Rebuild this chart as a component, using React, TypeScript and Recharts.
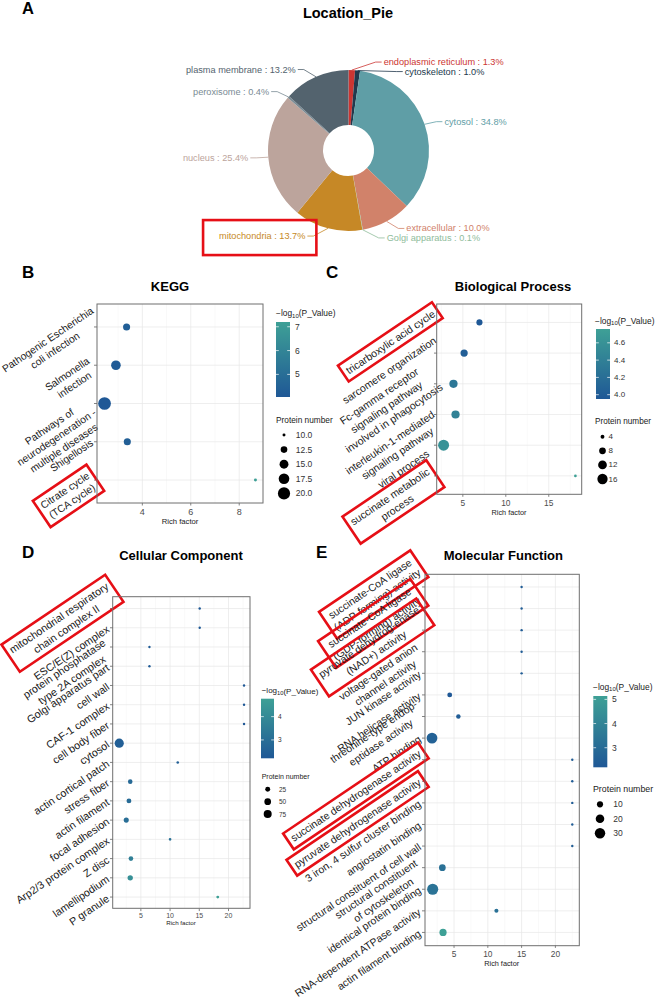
import React from "react";
import {
  PieChart,
  Pie,
  Cell,
  ScatterChart,
  Scatter,
  XAxis,
  YAxis,
  ZAxis,
  CartesianGrid,
} from "recharts";

const FONT = '"Liberation Sans", Arial, Helvetica, sans-serif';

// ---------- A: subcellular location ----------
const locNames = [
  "endoplasmic reticulum",
  "cytoskeleton",
  "cytosol",
  "extracellular",
  "Golgi apparatus",
  "mitochondria",
  "nucleus",
  "peroxisome",
  "plasma membrane",
];
const locPercent = [1.3, 1.0, 34.8, 10.0, 0.1, 13.7, 25.4, 0.4, 13.2];
const locColors = [
  "#cc3532",
  "#22394d",
  "#5f9ea6",
  "#d1826a",
  "#8fbc9b",
  "#c68826",
  "#bca49c",
  "#7a8b94",
  "#53636e",
];
const locHighlight = ["mitochondria"];

// ---------- B: KEGG ----------
const keggTerms = [
  "Pathogenic Escherichia\ncoli infection",
  "Salmonella\ninfection",
  "Pathways of\nneurodegeneration -\nmultiple diseases",
  "Shigellosis",
  "Citrate cycle\n(TCA cycle)",
];
const keggRich = [3.35, 2.91, 2.44, 3.38, 8.67];
const keggCount = [13, 16, 21, 13, 10];
const keggLogP = [4.3, 4.2, 4.05, 4.35, 7.2];
const keggBoxed = ["Citrate cycle\n(TCA cycle)"];
const keggXTicks = [4, 6, 8];
const keggPTicks = [5, 6, 7];
const keggSizeBreaks = [10, 12.5, 15, 17.5, 20];

// ---------- C: Biological Process ----------
const bpTerms = [
  "tricarboxylic acid cycle",
  "sarcomere organization",
  "Fc-gamma receptor\nsignaling pathway\ninvolved in phagocytosis",
  "interleukin-1-mediated\nsignaling pathway",
  "viral process",
  "succinate metabolic\nprocess",
];
const bpRich = [6.93, 5.15, 3.91, 4.15, 2.76, 18.1];
const bpCount = [7, 9, 11, 11, 18, 3];
const bpLogP = [3.95, 4.02, 4.3, 4.42, 4.6, 4.76];
const bpBoxed = ["tricarboxylic acid cycle", "succinate metabolic\nprocess"];
const bpXTicks = [5, 10, 15];
const bpPTicks = [4.0, 4.2, 4.4, 4.6];
const bpSizeBreaks = [4, 8, 12, 16];

// ---------- D: Cellular Component ----------
const ccTerms = [
  "mitochondrial respiratory\nchain complex II",
  "ESC/E(Z) complex",
  "protein phosphatase\ntype 2A complex",
  "Golgi apparatus part",
  "cell wall",
  "CAF-1 complex",
  "cell body fiber",
  "cytosol",
  "actin cortical patch",
  "stress fiber",
  "actin filament",
  "focal adhesion",
  "Arp2/3 protein complex",
  "Z disc",
  "lamellipodium",
  "P granule",
];
const ccRich = [15.07, 15.07, 6.47, 6.47, 22.66, 22.66, 22.66, 1.3, 11.31, 3.18, 2.96, 2.5, 10.0, 3.3, 3.18, 18.16];
const ccCount = [1, 1, 1, 1, 1, 1, 1, 100, 2, 20, 23, 27, 3, 21, 30, 4];
const ccLogP = [2.25, 2.25, 2.3, 2.3, 2.21, 2.21, 2.21, 2.45, 2.5, 2.85, 2.9, 3.0, 3.1, 3.6, 4.2, 4.77];
const ccBoxed = ["mitochondrial respiratory\nchain complex II"];
const ccXTicks = [5, 10, 15, 20];
const ccPTicks = [3, 4];
const ccSizeBreaks = [25, 50, 75];

// ---------- E: Molecular Function ----------
const mfTerms = [
  "succinate-CoA ligase\n(ADP-forming) activity",
  "succinate-CoA ligase\n(GDP-forming) activity",
  "pyruvate dehydrog-enase\n(NAD+) activity",
  "voltage-gated anion\nchannel activity",
  "JUN kinase activity",
  "RNA helicase activity",
  "threonine-type endop-\neptidase activity",
  "ATP binding",
  "succinate dehydrogenase activity",
  "pyruvate dehydrogenase activity",
  "3 iron, 4 sulfur cluster binding",
  "angiostatin binding",
  "structural constituent of cell wall",
  "structural constituent\nof cytoskeleton",
  "identical protein binding",
  "RNA-dependent ATPase activity",
  "actin filament binding",
];
const mfRich = [15, 15, 15, 15, 15, 4.36, 5.64, 1.74, 22.5, 22.5, 22.5, 22.5, 22.5, 3.27, 1.84, 11.27, 3.37];
const mfCount = [1, 1, 1, 1, 1, 6, 5, 32, 1, 1, 1, 1, 1, 12, 34, 4, 14];
const mfLogP = [2.4, 2.4, 2.4, 2.4, 2.4, 2.19, 2.4, 2.6, 2.4, 2.4, 2.4, 2.4, 2.4, 3.2, 3.3, 3.2, 5.14];
const mfBoxed = [
  "succinate-CoA ligase\n(ADP-forming) activity",
  "succinate-CoA ligase\n(GDP-forming) activity",
  "pyruvate dehydrog-enase\n(NAD+) activity",
  "succinate dehydrogenase activity",
  "pyruvate dehydrogenase activity",
];
const mfXTicks = [5, 10, 15, 20];
const mfPTicks = [3, 4, 5];
const mfSizeBreaks = [10, 20, 30];

// ---------- styling ----------
const RED = "#e60f16";
const LOW = [0x1f, 0x58, 0x96];
const HIGH = [0x3e, 0xa0, 0x96];
const ANGLE = 34;

// hand placement of a few axis labels, as they sit in the figure (px)
const labelNudge: Record<string, [number, number]> = {
  "Pathogenic Escherichia\ncoli infection": [4, -12],
  "Pathways of\nneurodegeneration -\nmultiple diseases": [3, 8],
  "tricarboxylic acid cycle": [2, -10],
  "sarcomere organization": [3, -14],
  "Fc-gamma receptor\nsignaling pathway\ninvolved in phagocytosis": [2, -9],
  "interleukin-1-mediated\nsignaling pathway": [5, 4],
  "viral process": [-4, 7],
  "mitochondrial respiratory\nchain complex II": [3, -18],
  "succinate-CoA ligase\n(ADP-forming) activity": [-4, -21],
  "succinate-CoA ligase\n(GDP-forming) activity": [-4, -14],
  "pyruvate dehydrog-enase\n(NAD+) activity": [2, -16],
  "threonine-type endop-\neptidase activity": [0, -8],
  "succinate dehydrogenase activity": [0, -7],
};

function pColor(v: number, lo: number, hi: number) {
  const t = Math.min(1, Math.max(0, (v - lo) / (hi - lo)));
  const c = LOW.map((l, i) => Math.round(l + (HIGH[i] - l) * t));
  return `rgb(${c[0]},${c[1]},${c[2]})`;
}

let measureCtx: CanvasRenderingContext2D | null = null;
function measure(s: string, fs: number) {
  if (!measureCtx) measureCtx = document.createElement("canvas").getContext("2d");
  if (!measureCtx) return s.length * fs * 0.5;
  measureCtx.font = `${fs}px "Liberation Sans"`;
  return measureCtx.measureText(s).width;
}

// pie label placement: elbow on a ring, labels pushed apart per side
function pieLabelLayout(cx: number, cy: number, r: number) {
  const total = locPercent.reduce((a, b) => a + b, 0);
  let cum = 0;
  const items = locPercent.map((v, i) => {
    const t = ((cum + v / 2) / total) * Math.PI * 2;
    cum += v;
    return { i, right: Math.sin(t) >= 0, y: cy - (r + 8) * Math.cos(t) };
  });
  const out: { y: number; right: boolean }[] = [];
  [true, false].forEach((side) => {
    let prev = -Infinity;
    items
      .filter((d) => d.right === side)
      .sort((a, b) => a.y - b.y)
      .forEach((d) => {
        const y = Math.max(d.y, prev + 9.5);
        out[d.i] = { y, right: side };
        prev = y;
      });
  });
  return out;
}

const renderPieLabel = (props: any) => {
  const { cx, cy, midAngle, outerRadius, index } = props;
  const lay = pieLabelLayout(cx, cy, outerRadius)[index];
  const RAD = Math.PI / 180;
  const sx = cx + outerRadius * Math.cos(-midAngle * RAD);
  const sy = cy + outerRadius * Math.sin(-midAngle * RAD);
  const R1 = outerRadius + 12;
  const dy = lay.y - cy;
  const dir = lay.right ? 1 : -1;
  const ex = cx + dir * Math.sqrt(Math.max(R1 * R1 - dy * dy, 0));
  const fx = ex + dir * 6;
  const tx = fx + dir * 2;
  const color = locColors[index];
  const text = `${locNames[index]} : ${locPercent[index].toFixed(1)}%`;
  const fs = 9.2;
  const w = measure(text, fs);
  const left = lay.right ? tx : tx - w;
  return (
    <g>
      <polyline points={`${sx},${sy} ${ex},${lay.y} ${fx},${lay.y}`} fill="none" stroke={color} strokeWidth={0.8} />
      <text x={tx} y={lay.y} textAnchor={lay.right ? "start" : "end"} dominantBaseline="central" fontSize={fs} fill={color} fontFamily={FONT}>
        {text}
      </text>
      {locHighlight.includes(locNames[index]) && (
        <rect x={left - 16} y={lay.y - 16} width={w + 27} height={35} fill="none" stroke={RED} strokeWidth={2.6} />
      )}
    </g>
  );
};

function termTick(terms: string[], boxed: string[], fs: number) {
  return (props: any) => {
    const { x, y, payload } = props;
    const term = terms[Math.round(payload.value) - 1];
    if (term === undefined) return <g />;
    const [nx, ny] = labelNudge[term] || [0, 0];
    const lines = term.split("\n");
    const lh = fs * 1.25;
    const w = Math.max(...lines.map((l) => measure(l, fs)));
    const h = lines.length * lh;
    return (
      <g transform={`translate(${x + nx},${y + ny}) rotate(${-ANGLE})`}>
        {lines.map((l, i) => (
          <text
            key={i}
            x={-w / 2}
            y={(i - (lines.length - 1) / 2) * lh}
            textAnchor="middle"
            dominantBaseline="central"
            fontSize={fs}
            fill="#1a1a1a"
            fontFamily={FONT}
          >
            {l}
          </text>
        ))}
        {boxed.includes(term) && (
          <rect x={-w - 4} y={-h / 2 - 3} width={w + 8} height={h + 6} fill="none" stroke={RED} strokeWidth={2.6} />
        )}
      </g>
    );
  };
}

type Panel = {
  id: string;
  letter: string;
  letterX: number;
  letterY: number;
  title: string;
  titleX: number;
  titleY: number;
  terms: string[];
  rich: number[];
  count: number[];
  logp: number[];
  boxed: string[];
  xTicks: number[];
  pTicks: number[];
  pDec: number;
  sizeBreaks: number[];
  sDec: number;
  zRange: [number, number];
  plot: { l: number; t: number; w: number; h: number };
  labelFs: number;
  tickFs: number;
  tickMargin: number;
  rich_: { x: number; y: number; fs: number };
  lg: {
    x: number; titleY: number; titleFs: number;
    barX: number; barW: number; barTop: number; barBottom: number; tickX: number; fs: number;
    sizeTitleY: number; sizeTitleFs: number; sizeY0: number; step: number; dotX: number; labX: number;
  };
};

const panels: Panel[] = [
  {
    id: "kegg", letter: "B", letterX: 22, letterY: 278, title: "KEGG", titleX: 170, titleY: 286,
    terms: keggTerms, rich: keggRich, count: keggCount, logp: keggLogP, boxed: keggBoxed,
    xTicks: keggXTicks, pTicks: keggPTicks, pDec: 0, sizeBreaks: keggSizeBreaks, sDec: 1,
    zRange: [7, 127], plot: { l: 97, t: 304, w: 166, h: 199 },
    labelFs: 10.3, tickFs: 9, tickMargin: 3.3, rich_: { x: 180, y: 521.7, fs: 7.7 },
    lg: { x: 276, titleY: 313, titleFs: 8.4, barX: 276, barW: 14, barTop: 322, barBottom: 397, tickX: 295, fs: 8.5,
      sizeTitleY: 420, sizeTitleFs: 8.3, sizeY0: 435, step: 14.6, dotX: 284, labX: 295.7 },
  },
  {
    id: "bp", letter: "C", letterX: 326, letterY: 278, title: "Biological Process", titleX: 513, titleY: 286,
    terms: bpTerms, rich: bpRich, count: bpCount, logp: bpLogP, boxed: bpBoxed,
    xTicks: bpXTicks, pTicks: bpPTicks, pDec: 1, sizeBreaks: bpSizeBreaks, sDec: 0,
    zRange: [5.7, 95], plot: { l: 436.7, t: 304, w: 145, h: 190.3 },
    labelFs: 10.6, tickFs: 8.4, tickMargin: 2.9, rich_: { x: 509, y: 512, fs: 7.3 },
    lg: { x: 595, titleY: 320.7, titleFs: 8.4, barX: 596, barW: 14, barTop: 329, barBottom: 399, tickX: 614, fs: 8,
      sizeTitleY: 421.7, sizeTitleFs: 8.2, sizeY0: 436.7, step: 14.1, dotX: 602.5, labX: 608.5 },
  },
  {
    id: "cc", letter: "D", letterX: 22, letterY: 558, title: "Cellular Component", titleX: 181, titleY: 555,
    terms: ccTerms, rich: ccRich, count: ccCount, logp: ccLogP, boxed: ccBoxed,
    xTicks: ccXTicks, pTicks: ccPTicks, pDec: 0, sizeBreaks: ccSizeBreaks, sDec: 0,
    zRange: [4.5, 66], plot: { l: 112.7, t: 596.7, w: 137.3, h: 311.6 },
    labelFs: 10.7, tickFs: 7, tickMargin: 2.2, rich_: { x: 181, y: 922.3, fs: 6.2 },
    lg: { x: 261.7, titleY: 690.7, titleFs: 8, barX: 261, barW: 13, barTop: 698.7, barBottom: 758.3, tickX: 278, fs: 6.5,
      sizeTitleY: 776.7, sizeTitleFs: 7, sizeY0: 789.3, step: 12.35, dotX: 267.7, labX: 279 },
  },
  {
    id: "mf", letter: "E", letterX: 316, letterY: 558, title: "Molecular Function", titleX: 503.3, titleY: 555,
    terms: mfTerms, rich: mfRich, count: mfCount, logp: mfLogP, boxed: mfBoxed,
    xTicks: mfXTicks, pTicks: mfPTicks, pDec: 0, sizeBreaks: mfSizeBreaks, sDec: 0,
    zRange: [4.5, 97], plot: { l: 425, t: 574.3, w: 154.3, h: 371.4 },
    labelFs: 10.5, tickFs: 8.4, tickMargin: 3.1, rich_: { x: 501.7, y: 963.3, fs: 7.3 },
    lg: { x: 593, titleY: 686.7, titleFs: 8.4, barX: 593.3, barW: 14, barTop: 696, barBottom: 767.3, tickX: 612, fs: 8.5,
      sizeTitleY: 789.3, sizeTitleFs: 8.8, sizeY0: 804.3, step: 14.5, dotX: 600, labX: 613.3 },
  },
];

function BubblePanel({ p }: { p: Panel }) {
  const yw = 230;
  const top = 40;
  const right = 12;
  const axisH = 30;
  const bottom = 60;
  const n = p.terms.length;
  const lo = Math.min(...p.logp);
  const hi = Math.max(...p.logp);
  const data = p.terms.map((t, i) => ({
    x: p.rich[i],
    y: i + 1,
    z: p.count[i],
    c: pColor(p.logp[i], lo, hi),
  }));
  const xmin = Math.min(...p.rich);
  const xmax = Math.max(...p.rich);
  const pad = (xmax - xmin) * 0.05;
  const dom: [number, number] = [xmin - pad, xmax + pad];
  const step = p.xTicks[1] - p.xTicks[0];
  const minor = [...p.xTicks.map((t) => t - step / 2), p.xTicks[p.xTicks.length - 1] + step / 2].filter(
    (v) => v > dom[0] && v < dom[1]
  );
  const rows = p.terms.map((_, i) => i + 1);
  return (
    <div style={{ position: "absolute", left: p.plot.l - yw, top: p.plot.t - top }}>
      <ScatterChart
        width={yw + p.plot.w + right}
        height={top + p.plot.h + axisH + bottom}
        margin={{ top, right, left: 0, bottom }}
      >
        <CartesianGrid horizontal={false} verticalValues={minor} stroke="#f2f2f2" strokeWidth={0.5} />
        <CartesianGrid horizontal={false} verticalValues={p.xTicks} stroke="#e6e6e6" strokeWidth={0.7} />
        <CartesianGrid vertical={false} horizontalValues={rows} stroke="#e6e6e6" strokeWidth={0.7} />
        <XAxis
          type="number"
          dataKey="x"
          domain={dom}
          allowDataOverflow
          ticks={p.xTicks}
          interval={0}
          height={axisH}
          axisLine={false}
          tickSize={2.5}
          tickMargin={p.tickMargin}
          tickLine={{ stroke: "#4d4d4d", strokeWidth: 0.7 }}
          tick={{ fontSize: p.tickFs, fill: "#4d4d4d", fontFamily: FONT }}
        />
        <YAxis
          type="number"
          dataKey="y"
          domain={[0.4, n + 0.6]}
          allowDataOverflow
          reversed
          ticks={rows}
          interval={0}
          width={yw}
          axisLine={false}
          tickSize={3}
          tickMargin={2}
          tickLine={{ stroke: "#4d4d4d", strokeWidth: 0.7 }}
          tick={termTick(p.terms, p.boxed, p.labelFs)}
        />
        <ZAxis type="number" dataKey="z" domain={[Math.min(...p.count), Math.max(...p.count)]} range={p.zRange} />
        <Scatter data={data} isAnimationActive={false}>
          {data.map((d, i) => (
            <Cell key={i} fill={d.c} />
          ))}
        </Scatter>
      </ScatterChart>
    </div>
  );
}

function PanelDecor({ p }: { p: Panel }) {
  const lg = p.lg;
  const lo = Math.min(...p.logp);
  const hi = Math.max(...p.logp);
  const cmin = Math.min(...p.count);
  const cmax = Math.max(...p.count);
  const yOf = (v: number) => lg.barBottom - ((v - lo) / (hi - lo)) * (lg.barBottom - lg.barTop);
  const gid = `grad-${p.id}`;
  return (
    <g fontFamily={FONT}>
      <defs>
        <linearGradient id={gid} x1="0" y1="1" x2="0" y2="0">
          <stop offset="0" stopColor={pColor(lo, lo, hi)} />
          <stop offset="1" stopColor={pColor(hi, lo, hi)} />
        </linearGradient>
      </defs>
      <text x={p.letterX} y={p.letterY} fontSize={17} fontWeight="bold" fill="#000">
        {p.letter}
      </text>
      <text x={p.titleX} y={p.titleY} fontSize={13} fontWeight="bold" textAnchor="middle" dominantBaseline="central" fill="#000">
        {p.title}
      </text>
      <rect x={p.plot.l} y={p.plot.t} width={p.plot.w} height={p.plot.h} fill="none" stroke="#6f6f6f" strokeWidth={1} />
      <text x={p.rich_.x} y={p.rich_.y} fontSize={p.rich_.fs} textAnchor="middle" dominantBaseline="central" fill="#1a1a1a">
        Rich factor
      </text>
      <text x={lg.x} y={lg.titleY} fontSize={lg.titleFs} dominantBaseline="central" fill="#1a1a1a">
        {"\u2212log"}
        <tspan dy={lg.titleFs * 0.3} fontSize={lg.titleFs * 0.72}>
          10
        </tspan>
        <tspan dy={-lg.titleFs * 0.3}>(P_Value)</tspan>
      </text>
      <rect x={lg.barX} y={lg.barTop} width={lg.barW} height={lg.barBottom - lg.barTop} fill={`url(#${gid})`} />
      {p.pTicks.map((v) => (
        <g key={v}>
          <line x1={lg.barX} x2={lg.barX + 2.8} y1={yOf(v)} y2={yOf(v)} stroke="#fff" strokeWidth={0.7} />
          <line x1={lg.barX + lg.barW - 2.8} x2={lg.barX + lg.barW} y1={yOf(v)} y2={yOf(v)} stroke="#fff" strokeWidth={0.7} />
          <text x={lg.tickX} y={yOf(v)} fontSize={lg.fs} dominantBaseline="central" fill="#333">
            {v.toFixed(p.pDec)}
          </text>
        </g>
      ))}
      <text x={lg.x} y={lg.sizeTitleY} fontSize={lg.sizeTitleFs} dominantBaseline="central" fill="#1a1a1a">
        Protein number
      </text>
      {p.sizeBreaks.map((b, i) => {
        const area = p.zRange[0] + ((b - cmin) / (cmax - cmin)) * (p.zRange[1] - p.zRange[0]);
        const r = Math.sqrt(Math.max(area, 1) / Math.PI);
        const cy = lg.sizeY0 + i * lg.step;
        return (
          <g key={b}>
            <circle cx={lg.dotX} cy={cy} r={r} fill="#000" />
            <text x={lg.labX} y={cy} fontSize={lg.fs} dominantBaseline="central" fill="#333">
              {b.toFixed(p.sDec)}
            </text>
          </g>
        );
      })}
    </g>
  );
}

export default function App() {
  const pieData = locNames.map((name, i) => ({ name, value: locPercent[i] }));
  return (
    <div
      style={{
        position: "absolute",
        left: 0,
        top: 0,
        width: 656,
        height: 998,
        background: "#fff",
        overflow: "hidden",
        fontFamily: FONT,
      }}
    >
      <style>{".recharts-surface{overflow:visible}.recharts-wrapper{overflow:visible}"}</style>
      <div style={{ position: "absolute", left: 0, top: 0 }}>
        <PieChart width={656} height={300} margin={{ top: 0, right: 0, bottom: 0, left: 0 }}>
          <Pie
            data={pieData}
            dataKey="value"
            nameKey="name"
            cx={348.5}
            cy={150.5}
            innerRadius={25.5}
            outerRadius={80.5}
            startAngle={90}
            endAngle={-270}
            stroke="none"
            isAnimationActive={false}
            label={renderPieLabel}
            labelLine={false}
          >
            {pieData.map((d, i) => (
              <Cell key={d.name} fill={locColors[i]} />
            ))}
          </Pie>
        </PieChart>
      </div>
      {panels.map((p) => (
        <BubblePanel key={p.id} p={p} />
      ))}
      <svg
        width={656}
        height={998}
        style={{ position: "absolute", left: 0, top: 0, pointerEvents: "none" }}
        fontFamily={FONT}
      >
        <text x={22} y={14} fontSize={16.5} fontWeight="bold" fill="#000">
          A
        </text>
        <text x={348} y={13} fontSize={14.5} fontWeight="bold" textAnchor="middle" dominantBaseline="central" fill="#000">
          Location_Pie
        </text>
        {panels.map((p) => (
          <PanelDecor key={p.id} p={p} />
        ))}
      </svg>
    </div>
  );
}
